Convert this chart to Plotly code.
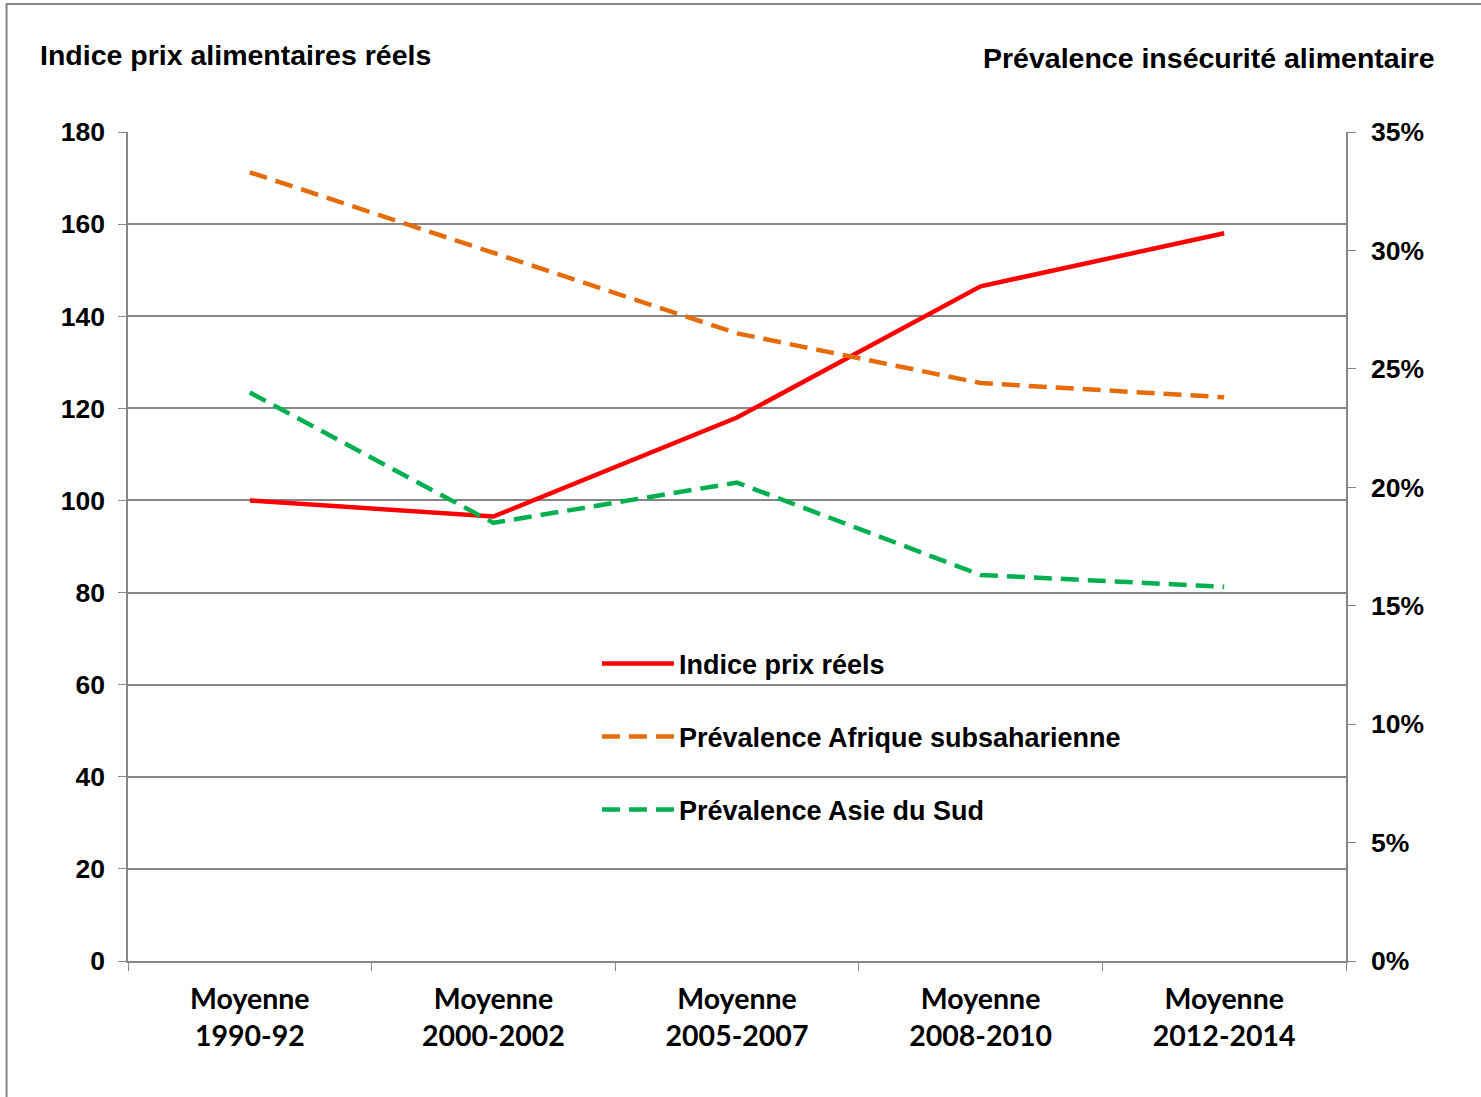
import plotly.graph_objects as go

categories = ["Moyenne<br>1990-92", "Moyenne<br>2000-2002", "Moyenne<br>2005-2007",
              "Moyenne<br>2008-2010", "Moyenne<br>2012-2014"]
indice_prix = [100, 96.5, 118, 146.5, 158]
prev_afrique = [0.333, 0.299, 0.265, 0.244, 0.238]
prev_asie = [0.240, 0.185, 0.202, 0.163, 0.158]

left_ticks = [0, 20, 40, 60, 80, 100, 120, 140, 160, 180]
right_ticks = [0, 0.05, 0.10, 0.15, 0.20, 0.25, 0.30, 0.35]

ARIAL = "Liberation Sans, Arial, sans-serif"

fig = go.Figure()
fig.add_trace(go.Scatter(x=categories, y=indice_prix, name="<b>Indice prix réels</b>",
                         mode="lines", line=dict(color="#FF0000", width=4.5),
                         legendgroup="a"))
fig.add_trace(go.Scatter(x=categories, y=prev_afrique, name="<b>Prévalence Afrique subsaharienne</b>",
                         mode="lines", yaxis="y2",
                         line=dict(color="#E46C0A", width=4.5, dash="18px,9px"),
                         legendgroup="b"))
fig.add_trace(go.Scatter(x=categories, y=prev_asie, name="<b>Prévalence Asie du Sud</b>",
                         mode="lines", yaxis="y2",
                         line=dict(color="#00B050", width=4.5, dash="18px,9px"),
                         legendgroup="c"))

fig.update_layout(
    width=1481, height=1097,
    margin=dict(l=128, r=135, t=132, b=136),
    paper_bgcolor="white", plot_bgcolor="white",
    font=dict(family=ARIAL, size=22, color="black"),
    showlegend=True,
    legend=dict(x=0.385, y=0.388, xanchor="left", yanchor="top",
                bgcolor="rgba(0,0,0,0)", tracegroupgap=35, itemwidth=72,
                font=dict(family=ARIAL, size=27, color="black")),
    xaxis=dict(type="category", tickson="boundaries", ticks="outside", ticklen=8,
               tickcolor="#868686", showline=True, linecolor="#868686", linewidth=1.5,
               showgrid=False, range=[-0.5, 4.5], ticklabelstandoff=12,
               tickvals=categories,
               ticktext=[f"<b>{c}</b>".replace("<br>", "</b><br><b>") for c in categories],
               tickfont=dict(family="Lato, Open Sans, sans-serif", size=28.5, color="black")),
    yaxis=dict(range=[0, 180], tickvals=left_ticks,
               ticktext=[f"<b>{v}</b>" for v in left_ticks],
               ticks="outside", ticklen=8, tickcolor="#868686",
               showline=True, linecolor="#868686", linewidth=1.5,
               showgrid=True, gridcolor="#868686", gridwidth=1.5,
               zeroline=False, ticklabelstandoff=8,
               tickfont=dict(family=ARIAL, size=26.5)),
    yaxis2=dict(range=[0, 0.35], overlaying="y", side="right",
                tickvals=right_ticks,
                ticktext=[f"<b>{round(v*100)}%</b>" for v in right_ticks],
                ticks="outside", ticklen=8, tickcolor="#868686",
                showline=True, linecolor="#868686", linewidth=1.5,
                showgrid=False, zeroline=False, ticklabelstandoff=10,
                tickfont=dict(family=ARIAL, size=26.5)),
    annotations=[
        dict(text="<b>Indice prix alimentaires réels</b>", xref="paper", yref="paper",
             x=-0.0738, y=1.093, xanchor="left", yanchor="middle", showarrow=False,
             font=dict(family=ARIAL, size=28.5, color="black")),
        dict(text="<b>Prévalence insécurité alimentaire</b>", xref="paper", yref="paper",
             x=1.0745, y=1.089, xanchor="right", yanchor="middle", showarrow=False,
             font=dict(family=ARIAL, size=28.5, color="black")),
    ],
    shapes=[
        dict(type="rect", xref="paper", yref="paper", x0=-0.0997, x1=1.2, y0=-0.3, y1=1.1545,
             line=dict(color="#868686", width=2), fillcolor="rgba(0,0,0,0)", layer="below"),
    ],
)

fig.write_html("out.html")
